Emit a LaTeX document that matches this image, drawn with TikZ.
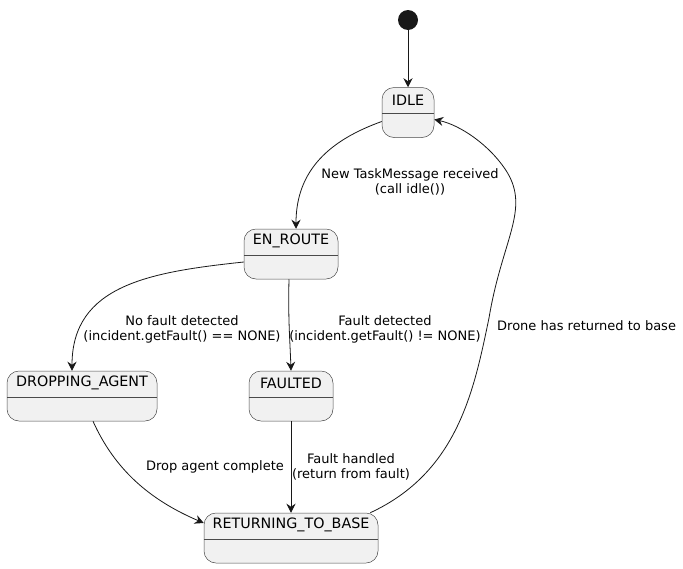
\documentclass[tikz,border=0pt]{standalone}
\usepackage{fontspec}
\setmainfont{DejaVu Sans}
\usetikzlibrary{arrows.meta}
\definecolor{sfill}{HTML}{F1F1F1}
\definecolor{sline}{HTML}{181818}
\definecolor{sborder}{HTML}{4A4A4A}
\begin{document}
\begin{tikzpicture}[x=1pt,y=-1pt,
  state/.style={draw=sborder, line width=0.5pt, fill=sfill, rounded corners=12pt, inner sep=0pt, minimum height=50pt},
  divider/.style={draw=sborder, line width=0.5pt},
  stitle/.style={font=\fontsize{14.3}{16}\selectfont, inner sep=0pt, anchor=center},
  elabel/.style={font=\fontsize{13}{15}\selectfont, align=center, inner sep=0pt},
  conn/.style={draw=sline, line width=0.8pt, -{Stealth[length=9pt,width=9pt,inset=3pt]}}]
\useasboundingbox (0,0) rectangle (683,568);
% initial
\node[circle, fill=sline, minimum size=20pt, inner sep=0pt] (init) at (408,20) {};
% states
\node[state, minimum width=52pt] (idle) at (408,112.5) {};
\node[stitle] (idlet) at (408,100) {IDLE};
\draw[divider] ([yshift=-1pt]idle.west) -- ([yshift=-1pt]idle.east);

\node[state, minimum width=94pt] (enr) at (291,254) {};
\node[stitle] (enrt) at (291,241) {EN\_ROUTE};
\draw[divider] ([yshift=-1pt]enr.west) -- ([yshift=-1pt]enr.east);

\node[state, minimum width=150pt] (drop) at (82,396) {};
\node[stitle] (dropt) at (82,383) {DROPPING\_AGENT};
\draw[divider] ([yshift=-1pt]drop.west) -- ([yshift=-1pt]drop.east);

\node[state, minimum width=84pt] (flt) at (291,396) {};
\node[stitle] (fltt) at (291,383) {FAULTED};
\draw[divider] ([yshift=-1pt]flt.west) -- ([yshift=-1pt]flt.east);

\node[state, minimum width=174pt] (rtb) at (291,538) {};
\node[stitle] (rtbt) at (291,525) {RETURNING\_TO\_BASE};
\draw[divider] ([yshift=-1pt]rtb.west) -- ([yshift=-1pt]rtb.east);

% connectors
\draw[conn] (init) -- (idle.north);
\draw[conn] ([yshift=-9pt]idle.west) .. controls (330,140) and (296,170) .. ([xshift=5pt]enr.north);
\node[elabel] (l1) at (410,182) {New TaskMessage received\\(call idle())};

\draw[conn] ([yshift=-8pt]enr.west) .. controls (150,272) and (72,285) .. ([xshift=-10pt]drop.north);
\node[elabel] (l2) at (182,329) {No fault detected\\(incident.getFault() == NONE)};

\draw[conn] ([xshift=-2pt]enr.south) .. controls (288,320) and (290,340) .. (flt.north);
\node[elabel] (l3) at (385,329) {Fault detected\\(incident.getFault() != NONE)};

\draw[conn] ([xshift=11pt]drop.south) .. controls (115,470) and (150,500) .. ([yshift=15pt]rtb.west);
\node[elabel] (l4) at (215,467) {Drop agent complete};

\draw[conn] (flt.south) -- (rtb.north);
\node[elabel] (l5) at (351,467) {Fault handled\\(return from fault)};

\coordinate (m1) at (489,318);
\coordinate (m2) at (507,172);
\draw[conn] ([xshift=-8pt]rtb.north east) .. controls (458,472) and (474,390) .. (m1)
  .. controls (502,240) and (530,210) .. (m2)
  .. controls (490,145) and (460,125) .. ([yshift=-7pt]idle.east);
\node[elabel, anchor=west] (l6) at (497,326) {Drone has returned to base};
\end{tikzpicture}
\end{document}
